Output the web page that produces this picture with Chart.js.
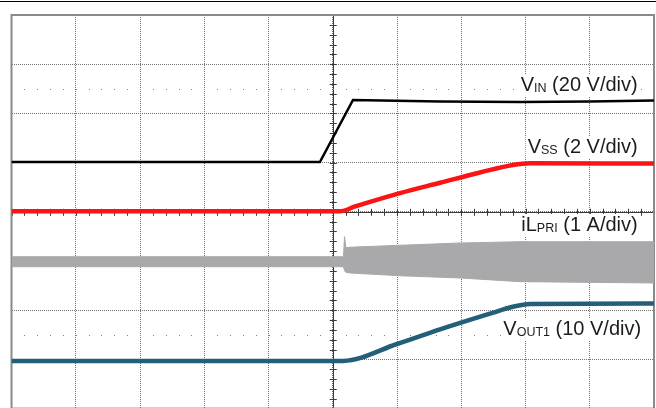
<!DOCTYPE html>
<html>
<head>
<meta charset="utf-8">
<script src="https://cdn.jsdelivr.net/npm/chart.js@4.4.1/dist/chart.umd.min.js"></script>
<style>
  html, body { margin: 0; padding: 0; background: #fff; overflow: hidden; }
  #wrap { position: absolute; left: 0; top: 0; width: 656px; height: 410px; }
</style>
</head>
<body>
<div id="wrap"><canvas id="scope" width="656" height="410"></canvas></div>
<script>
// scope screen in divisions: x 0..10, y -4..4 (centre line = 0)
const vinX  = [0, 4.80, 5.315, 6.669, 7.914, 9.004, 10];
const vinY  = [1.01, 1.01, 2.272, 2.242, 2.232, 2.242, 2.262];

const vssX  = [0, 5.113, 5.35, 6.047, 6.669, 7.292, 7.805, 8.07, 10];
const vssY  = [0.01, 0.01, 0.11, 0.38, 0.59, 0.80, 0.951, 0.985, 0.98];

const voutX = [0, 5.16, 6.0, 6.669, 7.447, 7.805, 8.07, 10];
const voutY = [-3.03, -3.03, -2.687, -2.39, -2.07, -1.93, -1.874, -1.864];

// inductor current: switching ripple shown as an envelope (top / bottom)
const ilX     = [0, 5.167, 5.183, 5.205, 5.268, 6.047, 6.98, 7.914, 10];
const ilTop   = [-0.913, -0.913, -0.506, -0.73, -0.72, -0.68, -0.634, -0.608, -0.608];
const ilBot   = [-1.116, -1.116, -1.2, -1.23, -1.244, -1.3, -1.345, -1.42, -1.447];

const traceLabels = [
  { main: 'V',  sub: 'IN',   rest: ' (20 V/div)' },
  { main: 'V',  sub: 'SS',   rest: ' (2 V/div)' },
  { main: 'iL', sub: 'PRI',  rest: ' (1 A/div)' },
  { main: 'V',  sub: 'OUT1', rest: ' (10 V/div)' },
];
// right edge / baseline of each label, in divisions
const labelAnchor = [[9.746, 2.455], [9.746, 1.195], [9.746, -0.39], [9.80, -2.51]];

function pts(xs, ys) {
  return xs.map((x, i) => ({ x: x, y: ys[i] }));
}

const scopeDecor = {
  id: 'scopeDecor',
  beforeDatasetsDraw(chart) {
    const ctx = chart.ctx;
    const xs = chart.scales.x, ys = chart.scales.y;
    const a = chart.chartArea;
    const cx = xs.getPixelForValue(5), cy = ys.getPixelForValue(0);
    ctx.save();
    // centre cross with minor ticks
    ctx.strokeStyle = '#3a3a3a';
    ctx.lineWidth = 1;
    ctx.beginPath();
    ctx.moveTo(Math.round(cx) + 0.5, a.top); ctx.lineTo(Math.round(cx) + 0.5, a.bottom);
    ctx.moveTo(a.left, Math.round(cy) + 0.5); ctx.lineTo(a.right, Math.round(cy) + 0.5);
    for (let k = -20; k <= 20; k++) {
      const y = Math.round(ys.getPixelForValue(k * 0.2)) + 0.5;
      ctx.moveTo(cx - 3, y); ctx.lineTo(cx + 4, y);
    }
    for (let k = 0; k <= 50; k++) {
      const x = Math.round(xs.getPixelForValue(k * 0.2)) + 0.5;
      ctx.moveTo(x, cy - 3); ctx.lineTo(x, cy + 4);
    }
    ctx.stroke();
    // dotted marker rows
    ctx.fillStyle = '#808080';
    [2.5, -2.5].forEach(v => {
      const y = Math.round(ys.getPixelForValue(v));
      for (let k = 1; k < 50; k++) {
        const x = Math.round(xs.getPixelForValue(k * 0.2));
        ctx.fillRect(x, y, 1, 1);
      }
    });
    // frame
    ctx.strokeStyle = '#8a8a8a';
    ctx.lineWidth = 2;
    ctx.strokeRect(a.left, a.top, a.right - a.left, a.bottom - a.top);
    ctx.restore();
  },
  afterDatasetsDraw(chart) {
    const ctx = chart.ctx;
    const xs = chart.scales.x, ys = chart.scales.y;
    ctx.save();
    traceLabels.forEach((lab, i) => {
      const right = xs.getPixelForValue(labelAnchor[i][0]);
      const base = ys.getPixelForValue(labelAnchor[i][1]);
      const big = '20px "Liberation Sans", Arial, sans-serif';
      const small = '12.5px "Liberation Sans", Arial, sans-serif';
      ctx.font = big;
      const w1 = ctx.measureText(lab.main).width;
      const w3 = ctx.measureText(lab.rest).width;
      ctx.font = small;
      const w2 = ctx.measureText(lab.sub).width;
      const left = right - (w1 + w2 + w3);
      ctx.fillStyle = '#fff';
      ctx.fillRect(left - 2, base - 17, w1 + w2 + w3 + 3, 22);
      ctx.fillStyle = '#1c1c1c';
      ctx.textBaseline = 'alphabetic';
      ctx.font = big;
      ctx.fillText(lab.main, left, base);
      ctx.font = small;
      ctx.fillText(lab.sub, left + w1, base + 1);
      ctx.font = big;
      ctx.fillText(lab.rest, left + w1 + w2, base);
    });
    // separator line at the very top of the page
    ctx.fillStyle = '#000';
    ctx.fillRect(0, 1, chart.width, 1);
    ctx.restore();
  }
};

new Chart(document.getElementById('scope'), {
  type: 'line',
  data: {
    datasets: [
      { label: 'iL top', data: pts(ilX, ilTop), borderColor: '#a9a9ab', borderWidth: 1,
        pointRadius: 0, fill: false, tension: 0 },
      { label: 'iL bottom', data: pts(ilX, ilBot), borderColor: '#a9a9ab', borderWidth: 1,
        backgroundColor: '#a9a9ab', pointRadius: 0, fill: '-1', tension: 0 },
      { label: 'VIN', data: pts(vinX, vinY), borderColor: '#000', borderWidth: 2.5,
        pointRadius: 0, fill: false, tension: 0 },
      { label: 'VSS', data: pts(vssX, vssY), borderColor: '#fb1414', borderWidth: 4.5,
        pointRadius: 0, fill: false, cubicInterpolationMode: 'monotone' },
      { label: 'VOUT1', data: pts(voutX, voutY), borderColor: '#235f78', borderWidth: 4.5,
        pointRadius: 0, fill: false, cubicInterpolationMode: 'monotone' },
    ]
  },
  options: {
    responsive: false,
    animation: false,
    devicePixelRatio: 1,
    layout: { padding: { left: 11.5, right: 2, top: 15, bottom: 1.4 } },
    plugins: { legend: { display: false }, tooltip: { enabled: false } },
    scales: {
      x: {
        type: 'linear', min: 0, max: 10,
        ticks: { display: false, stepSize: 1 },
        grid: { color: '#707070', lineWidth: 1, drawTicks: false },
        border: { display: false, dash: [1, 1] }
      },
      y: {
        type: 'linear', min: -4, max: 4,
        ticks: { display: false, stepSize: 1 },
        grid: { color: '#707070', lineWidth: 1, drawTicks: false },
        border: { display: false, dash: [1, 1] }
      }
    }
  },
  plugins: [scopeDecor]
});
</script>
</body>
</html>
